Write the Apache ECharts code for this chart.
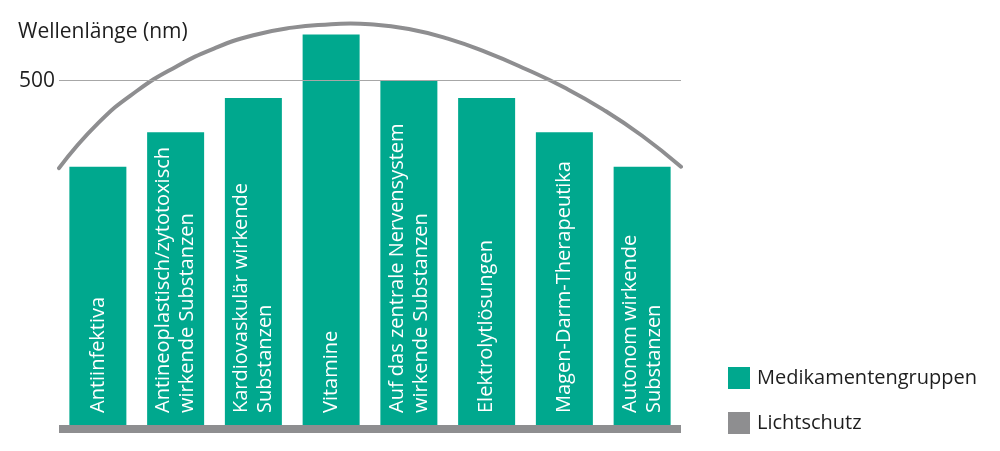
<!DOCTYPE html>
<html>
<head>
<meta charset="utf-8">
<script src="https://cdn.jsdelivr.net/npm/echarts@6/dist/echarts.min.js"></script>
<style>
html,body{margin:0;padding:0;background:#fff;}
#c{width:1000px;height:451px;}
</style>
</head>
<body>
<div id="c"></div>
<script>
// Data
const categories = [
  "Antiinfektiva",
  "Antineoplastisch/zytotoxisch\nwirkende Substanzen",
  "Kardiovaskulär wirkende\nSubstanzen",
  "Vitamine",
  "Auf das zentrale Nervensystem\nwirkende Substanzen",
  "Elektrolytlösungen",
  "Magen-Darm-Therapeutika",
  "Autonom wirkende\nSubstanzen"
];
const wavelengths = [375, 425, 475, 567, 500, 475, 425, 375];
// Lichtschutz arc: [position along categories (0..8), nm]
const arcX = [0, 0.5, 1, 1.5, 2, 2.5, 3, 3.5, 3.75, 4, 4.5, 5, 5.5, 6, 6.5, 7, 7.5, 8];
const arcY = [373, 438, 485, 520, 547, 566, 577, 582, 583, 582, 575, 561, 541, 517, 490, 458, 420, 375];
const yTicks = [500];
const titleText = "Wellenlänge (nm)";
const seriesNames = ["Medikamentengruppen", "Lichtschutz"];

const green = '#00a88e';
const gray = '#8e8e90';
const font = 'Open Sans';

const chart = echarts.init(document.getElementById('c'), null, {renderer: 'canvas'});
chart.setOption({
  animation: false,
  backgroundColor: '#fff',
  textStyle: {fontFamily: font},
  title: {
    text: titleText,
    left: 13, top: 17,
    textStyle: {fontFamily: font, fontSize: 21, fontWeight: 'normal', color: '#1e1e1e'}
  },
  legend: {
    orient: 'vertical',
    left: 723, top: 362,
    itemWidth: 22, itemHeight: 22, itemGap: 23,
    icon: 'rect',
    data: [
      {name: seriesNames[0], itemStyle: {color: green}},
      {name: seriesNames[1], itemStyle: {color: gray}, lineStyle: {width: 0}}
    ],
    textStyle: {fontFamily: font, fontSize: 20, color: '#1e1e1e', padding: [0, 0, 0, 2]}
  },
  grid: {left: 59, right: 319, top: 11.8, bottom: 26, containLabel: false},
  xAxis: [
    {
      type: 'category', data: categories,
      axisLine: {show: true, onZero: false, lineStyle: {color: gray, width: 8, cap: 'butt'}},
      offset: 4,
      axisTick: {show: false},
      axisLabel: {show: false},
      splitLine: {show: false}
    },
    {
      type: 'value', min: 0, max: 8, show: false
    }
  ],
  yAxis: {
    type: 'value', min: 0, max: 600, interval: 500,
    axisLine: {show: false}, axisTick: {show: false},
    splitLine: {show: false},
    axisLabel: {
      margin: 4, fontFamily: font, fontSize: 21, color: '#1e1e1e',
      formatter: v => yTicks.indexOf(v) >= 0 ? String(v) : ''
    }
  },
  series: [
    {
      name: seriesNames[0], type: 'bar', data: wavelengths,
      xAxisIndex: 0, barWidth: 57,
      itemStyle: {color: green},
      label: {
        show: true, formatter: '{b}', position: 'insideBottom',
        rotate: 90, align: 'left', verticalAlign: 'middle', distance: 12,
        color: '#fff', fontFamily: font, fontSize: 20, lineHeight: 24
      },
      markLine: {
        silent: true, symbol: ['none', 'none'],
        label: {show: false},
        lineStyle: {color: '#a7a7a7', width: 1, type: 'solid'},
        data: yTicks.map(t => ({yAxis: t}))
      },
      z: 3
    },
    {
      name: seriesNames[1], type: 'line', xAxisIndex: 1,
      data: arcX.map((x, i) => [x, arcY[i]]),
      smooth: true, symbol: 'none',
      lineStyle: {color: gray, width: 4, cap: 'round'},
      itemStyle: {color: gray},
      z: 4
    }
  ]
});
</script>
</body>
</html>
